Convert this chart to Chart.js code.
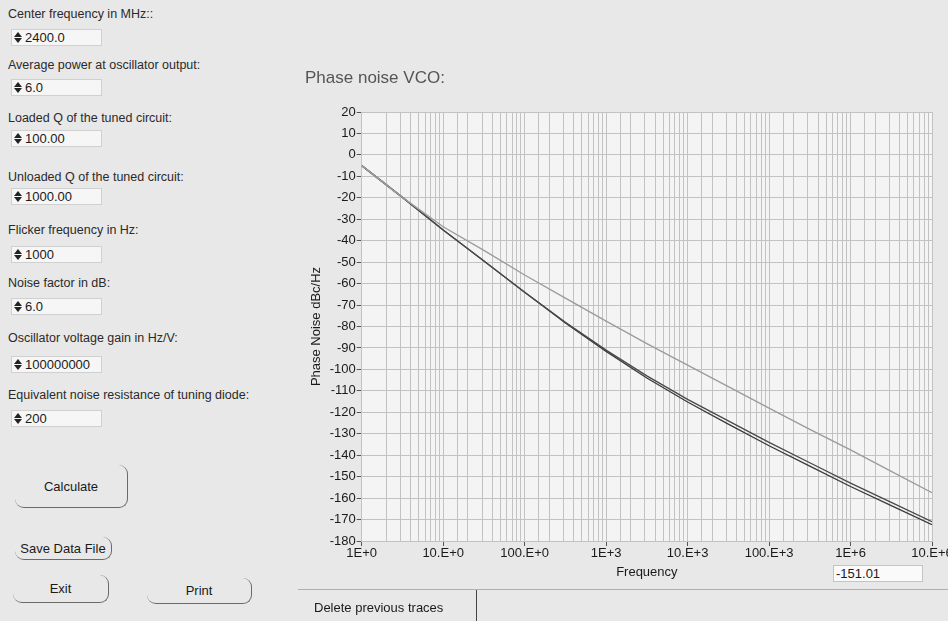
<!DOCTYPE html>
<html><head><meta charset="utf-8">
<script src="https://cdn.jsdelivr.net/npm/chart.js@4.4.1/dist/chart.umd.min.js"></script>
<style>
html,body{margin:0;padding:0;width:948px;height:621px;overflow:hidden;background:#e8e8e8;font-family:"Liberation Sans",Arial,sans-serif;color:#222;}
.lbl{position:absolute;left:8px;font-size:12.5px;line-height:14px;white-space:nowrap;color:#2a2a2a;}
.box{position:absolute;left:11px;width:91px;height:17px;background:#f6f6f6;border:1px solid #d0d0d0;box-sizing:border-box;font-size:13px;line-height:15px;padding-left:13px;color:#1a1a1a}
.spin{position:absolute;left:2px;top:2px;width:8px;height:11px}
.spin:before{content:"";position:absolute;left:0;top:0;border-left:4px solid transparent;border-right:4px solid transparent;border-bottom:5px solid #222}
.spin:after{content:"";position:absolute;left:0;top:6px;border-left:4px solid transparent;border-right:4px solid transparent;border-top:5px solid #222}
.btn{position:absolute;border-right:1.5px solid #6a6a6a;border-bottom:1.5px solid #6a6a6a;border-radius:9px;box-sizing:border-box;font-size:13px;display:flex;align-items:center;justify-content:center;color:#1a1a1a}
#chart{position:absolute;left:290px;top:60px;}
.hline{position:absolute;left:298px;top:589px;width:650px;height:1px;background:#b0b0b0}
.vline{position:absolute;left:476px;top:590px;width:1px;height:31px;background:#444}
.del{position:absolute;left:314px;top:600px;font-size:13px;line-height:15px;color:#1a1a1a}
.readout{position:absolute;left:833px;top:565px;width:90px;height:17px;background:#fafafa;border:1px solid #c4c4c4;box-sizing:border-box;font-size:13px;line-height:15px;padding-left:2px;color:#1a1a1a}
</style></head>
<body>
<div id="panel"></div>
<div class="btn" style="left:15px;top:465px;width:113px;height:43px;">Calculate</div>
<div class="btn" style="left:15px;top:537px;width:97px;height:23px;">Save Data File</div>
<div class="btn" style="left:13px;top:575px;width:96px;height:28px;">Exit</div>
<div class="btn" style="left:147px;top:578px;width:105px;height:26px;">Print</div>
<canvas id="chart" width="658" height="536"></canvas>
<div class="readout">-151.01</div>
<div class="hline"></div>
<div class="vline"></div>
<div class="del">Delete previous traces</div>
<script>
// ---- chart data ----
const frequencyHz   = [1, 3.162, 10, 31.62, 100, 316.2, 1000, 3162, 10000, 31620, 100000, 316200, 1000000, 3162000, 10000000];
const previousTrace = [-5, -19.8, -33.5, -44.5, -56, -66.8, -77.5, -88, -98, -108, -118, -128, -137.5, -147.5, -157.5];
const currentTraceA = [-5, -19.8, -35, -49.5, -64, -78, -91, -103, -114, -124, -134, -143.5, -153, -162, -171];
const currentTraceB = [-5, -19.8, -35, -49.5, -64, -78.3, -91.6, -104, -115.2, -125.5, -135.6, -145.1, -154.6, -163.5, -172.4];
const xTickLabels   = ['1E+0', '10.E+0', '100.E+0', '1E+3', '10.E+3', '100.E+3', '1E+6', '10.E+6'];
const yMin = -180, yMax = 20, yStep = 10;

// ---- input panel text ----
const paramLabels = ['Center frequency in MHz::', 'Average power at oscillator output:', 'Loaded Q of the tuned circuit:', 'Unloaded Q of the tuned circuit:', 'Flicker frequency in Hz:', 'Noise factor in dB:', 'Oscillator voltage gain in Hz/V:', 'Equivalent noise resistance of tuning diode:'];
const paramValues = ['2400.0', '6.0', '100.00', '1000.00', '1000', '6.0', '100000000', '200'];
const labelTops = [7, 58, 111, 170, 223, 276, 331, 388];
const boxTops   = [29, 79, 130, 188, 246, 298, 356, 410];

const panel = document.getElementById('panel');
paramLabels.forEach((t, i) => {
  const l = document.createElement('div'); l.className = 'lbl'; l.style.top = labelTops[i] + 'px'; l.textContent = t; panel.appendChild(l);
  const b = document.createElement('div'); b.className = 'box'; b.style.top = boxTops[i] + 'px';
  const s = document.createElement('span'); s.className = 'spin'; b.appendChild(s);
  b.appendChild(document.createTextNode(paramValues[i])); panel.appendChild(b);
});

const toPts = ys => frequencyHz.map((f, i) => ({x: f, y: ys[i]}));
const isDecade = v => { const e = Math.log10(v); return Math.abs(e - Math.round(e)) < 1e-6; };
const FONT = '"Liberation Sans", Arial, sans-serif';
const GRID = '#c2c2c2';

const plotBg = { id: 'plotBg', beforeDraw(chart) {
  const {ctx, chartArea: a} = chart; ctx.save(); ctx.fillStyle = '#f4f4f4';
  ctx.fillRect(a.left, a.top, a.right - a.left, a.bottom - a.top); ctx.restore(); } };

new Chart(document.getElementById('chart'), {
  type: 'line',
  data: { datasets: [
    { label: 'Previous trace', data: toPts(previousTrace), borderColor: '#9c9c9c', borderWidth: 1.4, pointRadius: 0, tension: 0 },
    { label: 'Trace A', data: toPts(currentTraceA), borderColor: '#4a4a4a', borderWidth: 1.3, pointRadius: 0, tension: 0 },
    { label: 'Trace B', data: toPts(currentTraceB), borderColor: '#3a3a3a', borderWidth: 1.3, pointRadius: 0, tension: 0 }
  ]},
  options: {
    responsive: false, animation: false, events: [],
    layout: { padding: { left: 15, right: 16, top: 0, bottom: 10 } },
    plugins: {
      legend: { display: false }, tooltip: { enabled: false },
      title: { display: true, text: 'Phase noise VCO:', align: 'start', color: '#555',
        font: { family: FONT, size: 17, weight: 'normal', lineHeight: 1.2 }, padding: { top: 7.8, bottom: 23.8 } }
    },
    scales: {
      x: { type: 'logarithmic', min: 1, max: 10000000,
        afterFit: s => { s.height = 45; s.paddingLeft = 0; s.paddingRight = 0; },
        grid: { color: GRID, lineWidth: 1, drawTicks: true, tickLength: 5,
          tickColor: ctx => (ctx.tick && isDecade(ctx.tick.value)) ? '#555' : 'rgba(0,0,0,0)' },
        border: { color: GRID },
        ticks: { autoSkip: false, maxRotation: 0, padding: 0, color: '#1a1a1a', font: { family: FONT, size: 13 },
          callback: v => isDecade(v) ? xTickLabels[Math.round(Math.log10(v))] : '' },
        title: { display: true, text: 'Frequency', color: '#1a1a1a', font: { family: FONT, size: 13, lineHeight: 1.2 }, padding: { top: 0, bottom: 6.2 } }
      },
      y: { type: 'linear', min: yMin, max: yMax,
        afterFit: s => { s.width = 56.7; s.paddingTop = 0; s.paddingBottom = 0; },
        grid: { color: GRID, lineWidth: 1, drawTicks: true, tickLength: 5, tickColor: '#555' },
        border: { color: GRID },
        ticks: { stepSize: yStep, padding: 1, color: '#1a1a1a', font: { family: FONT, size: 13 } },
        title: { display: true, text: 'Phase Noise dBc/Hz', color: '#1a1a1a', font: { family: FONT, size: 13, lineHeight: 1.2 }, padding: { top: 4, bottom: 0 } }
      }
    }
  },
  plugins: [plotBg]
});
</script>
</body></html>
